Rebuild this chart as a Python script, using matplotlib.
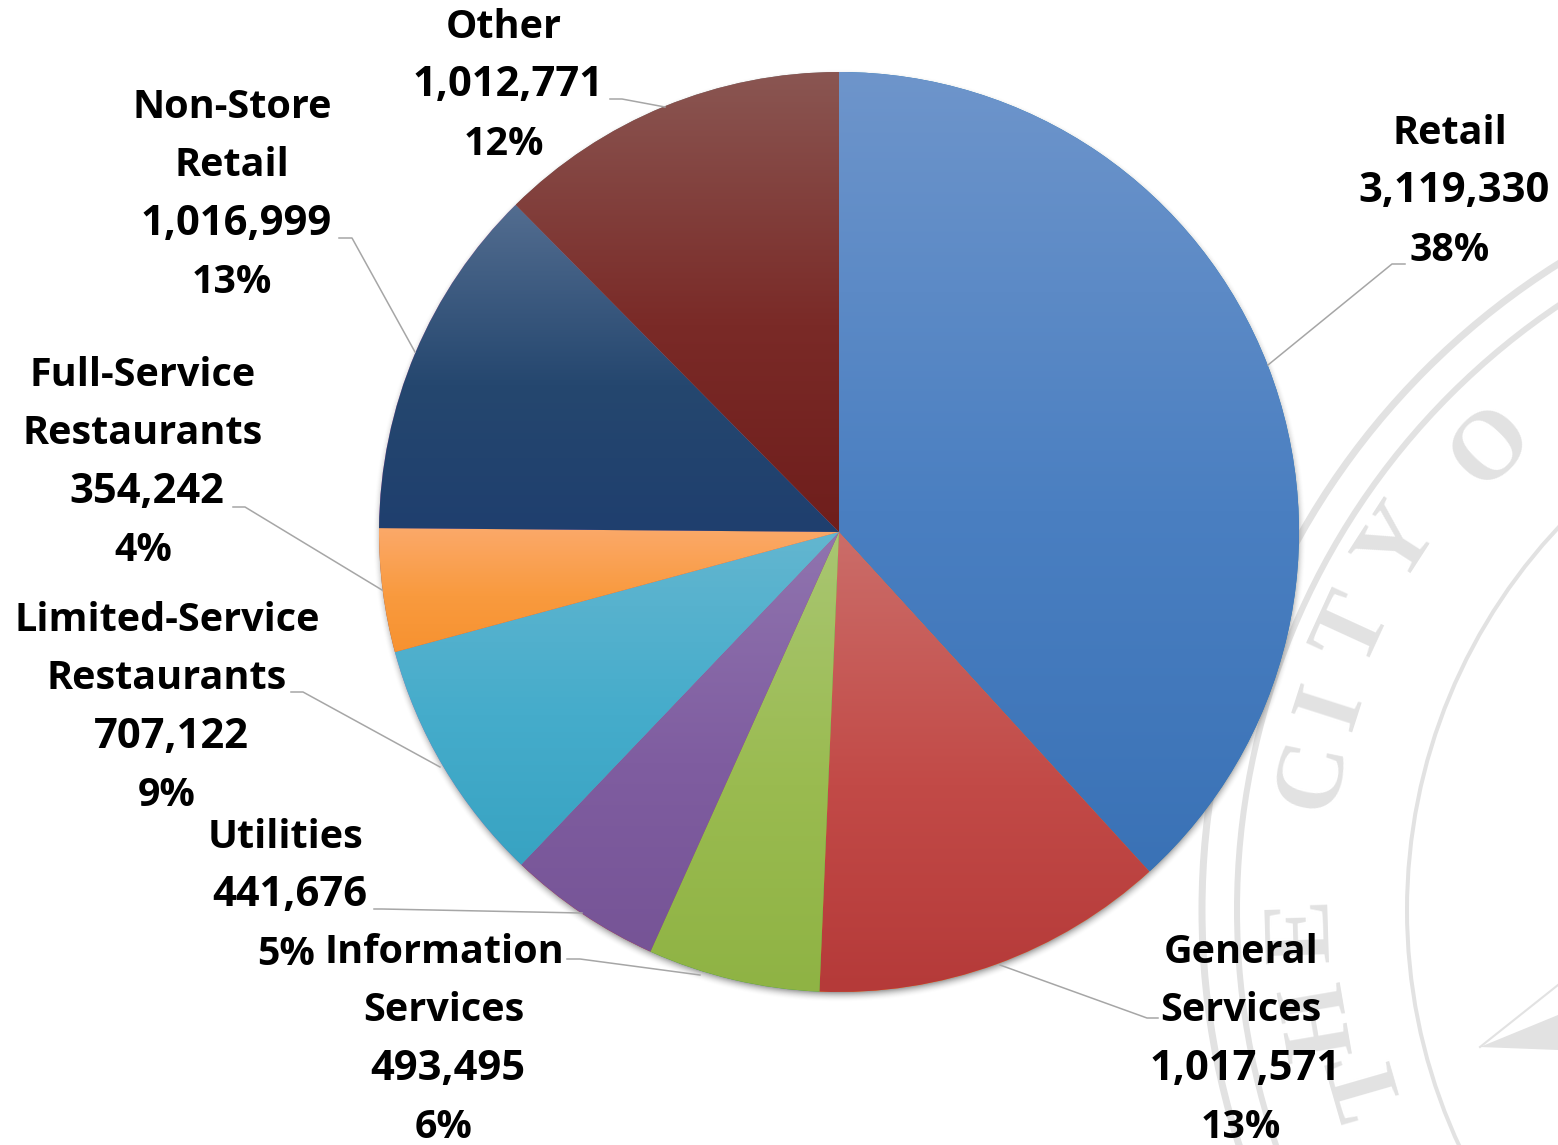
import numpy as np
import matplotlib
matplotlib.use("Agg")
import matplotlib.pyplot as plt
from matplotlib.colors import to_rgb
from matplotlib.patches import Circle, Polygon

W, H = 1558, 1145
categories = [["Retail"], ["General", "Services"], ["Information", "Services"], ["Utilities"],
              ["Limited-Service", "Restaurants"], ["Full-Service", "Restaurants"],
              ["Non-Store", "Retail"], ["Other"]]
values = [3119330, 1017571, 493495, 441676, 707122, 354242, 1016999, 1012771]
percents = ["38%", "13%", "6%", "5%", "9%", "4%", "13%", "12%"]

gradients = [("#6E95CB", "#4A7FC1", "#3A72B6"), ("#CB6D69", "#C24A47", "#B53A39"),
             ("#A9C672", "#9ABB50", "#8FB344"), ("#9074AF", "#7F5DA0", "#765496"),
             ("#63B6D0", "#45ACCB", "#38A3C2"), ("#FBA96A", "#F99A3E", "#F79230"),
             ("#536D90", "#25476F", "#1F3F6E"), ("#8A5652", "#7A2A27", "#6F1E1C")]

label_cx = [1450, 1241, 444, 286, 167, 143, 232, 504]
label_y0 = [132, 951, 951, 836, 619, 374, 106, 26]
line_step = 58.3
leaders = [[(1268, 365), (1392, 264), (1405, 264)], [(1000, 965), (1147, 1018), (1158, 1018)],
           [(700, 975), (580, 959), (567, 959)], [(582, 913), (382, 909), (374, 909)],
           [(440, 767), (303, 692), (291, 692)], [(382, 590), (245, 507), (233, 507)],
           [(415, 352), (352, 238), (339, 238)], [(665, 107), (622, 99), (610, 99)]]

CX, CY, R = 839, 532, 460
SEAL = (1966, 910)
seal_rings = [(764, 7), (729, 6), (559, 4)]
seal_letters = [("O", 1492, 448), ("Y", 1400, 545), ("T", 1355, 630), ("I", 1333, 707),
                ("C", 1315, 775), ("E", 1305, 930), ("H", 1322, 1020), ("T", 1370, 1082)]

fig = plt.figure(figsize=(W / 100, H / 100), dpi=100)
ax = fig.add_axes([0, 0, 1, 1])
ax.set_axis_off()
fy = lambda y: H - y

# faint seal in the background
seal_col = "#E2E2E2"
for r, lw in seal_rings:
    ax.add_patch(Circle((SEAL[0], fy(SEAL[1])), r, fill=False, ec=seal_col, lw=lw * 0.72, zorder=1))
for ch, x, y in seal_letters:
    ang = np.degrees(np.arctan2(SEAL[1] - y, x - SEAL[0]))
    ax.text(x, fy(y), ch, family="Liberation Serif", weight="bold", fontsize=70, color=seal_col, ha="center",
            va="center", rotation=ang - 90, rotation_mode="anchor", zorder=1, clip_on=True)
ax.add_patch(Polygon([(1480, fy(1047)), (1558, fy(1015)), (1558, fy(1050))], closed=True, fc=seal_col, ec="none", zorder=1))
ax.plot([1480, 1558], [fy(1047), fy(985)], color=seal_col, lw=1.5, zorder=1)

# soft shadow round the pie
yy, xx = np.mgrid[0:H, 0:W]
dist = np.hypot(xx - CX, yy - (CY + 3))
alpha = np.clip((R + 7 - dist) / 10, 0, 1) ** 2 * 0.55
shadow = np.zeros((H, W, 4))
shadow[..., :3] = 0.35
shadow[..., 3] = alpha
ax.imshow(shadow, extent=(0, W, 0, H), origin="upper", aspect="auto", zorder=2, interpolation="bilinear")

wedges, _ = ax.pie(values, startangle=90, counterclock=False, center=(CX, fy(CY)), radius=R,
                   wedgeprops=dict(linewidth=0), frame=False)
for w, stops in zip(wedges, gradients):
    w.set_zorder(3)
    box = w.get_path().get_extents(w.get_transform() - ax.transData)
    rgb = np.array([to_rgb(c) for c in stops])
    t = np.linspace(0, 1, 256)
    img = np.stack([np.interp(t, [0, 0.55, 1], rgb[:, i]) for i in range(3)], axis=1)[:, None, :]
    im = ax.imshow(img, extent=(box.x0, box.x1, box.y0, box.y1), origin="upper", aspect="auto", zorder=3,
                   interpolation="bilinear")
    im.set_clip_path(w)

for pts in leaders:
    ax.plot([p[0] for p in pts], [fy(p[1]) for p in pts], color="#A6A6A6", lw=1.1, zorder=4,
            solid_joinstyle="round")

for cat, val, pct, cx, y0 in zip(categories, values, percents, label_cx, label_y0):
    rows = [(s, 0, 28.5) for s in cat] + [(f"{val:,}", 4, 30), (pct, 0, 28.3)]
    for i, (s, dx, fs) in enumerate(rows):
        ax.text(cx + dx, fy(y0 + 1.6 + i * line_step), s, family="Open Sans", weight="bold", fontsize=fs, color="black",
                ha="center", va="center", zorder=5)

ax.set_xlim(0, W)
ax.set_ylim(0, H)
ax.set_aspect("auto")
fig.savefig("out.png", dpi=100, facecolor="white")
